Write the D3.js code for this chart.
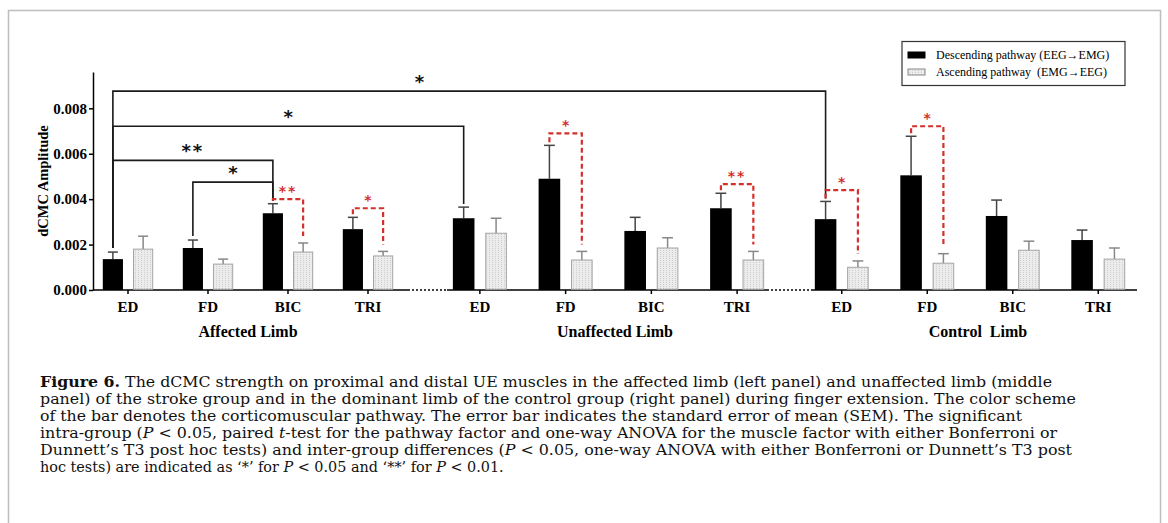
<!DOCTYPE html>
<html>
<head>
<meta charset="utf-8">
<script src="https://cdn.jsdelivr.net/npm/d3@7"></script>
<style>
  body { margin: 0; background: #fff; }
  text { font-family: "Liberation Serif", "Times New Roman", serif; }
</style>
</head>
<body>
<div id="chart"></div>
<script>
// --- data ---
const muscles = ["ED", "FD", "BIC", "TRI"];
const limbs = ["Affected Limb", "Unaffected Limb", "Control  Limb"];
const pathways = ["Descending pathway (EEG\u2192EMG)", "Ascending pathway  (EMG\u2192EEG)"];

// one row per limb, one value per muscle
const descending = [
  [0.00136, 0.00185, 0.00338, 0.00268],
  [0.00316, 0.00490, 0.00260, 0.00360],
  [0.00312, 0.00505, 0.00326, 0.00220]
];
const descendingSem = [
  [0.00031, 0.00035, 0.00042, 0.00052],
  [0.00049, 0.00147, 0.00060, 0.00066],
  [0.00078, 0.00172, 0.00070, 0.00044]
];
const ascending = [
  [0.00180, 0.00114, 0.00167, 0.00150],
  [0.00250, 0.00132, 0.00185, 0.00132],
  [0.00100, 0.00118, 0.00175, 0.00136]
];
const ascendingSem = [
  [0.00057, 0.00022, 0.00040, 0.00020],
  [0.00066, 0.00038, 0.00045, 0.00038],
  [0.00028, 0.00042, 0.00040, 0.00049]
];
const yTicks = [0, 0.002, 0.004, 0.006, 0.008];

// inter-group brackets (descending bars): [limb, muscle]
const interBrackets = [
  { from: [0, 0], to: [2, 0], level: 0.00876, label: "*" },
  { from: [0, 0], to: [1, 0], level: 0.00721, label: "*" },
  { from: [0, 0], to: [0, 2], level: 0.00571, label: "**" },
  { from: [0, 1], to: [0, 2], level: 0.00475, label: "*" }
];
// pathway brackets (descending vs ascending)
const pathwayBrackets = [
  { limb: 0, muscle: 2, level: 0.00400, label: "**" },
  { limb: 0, muscle: 3, level: 0.00360, label: "*" },
  { limb: 1, muscle: 1, level: 0.00690, label: "*" },
  { limb: 1, muscle: 3, level: 0.00466, label: "**" },
  { limb: 2, muscle: 0, level: 0.00440, label: "*" },
  { limb: 2, muscle: 1, level: 0.00721, label: "*" }
];

const captionLines = [
  [["Figure 6.", "b"], [" The dCMC strength on proximal and distal UE muscles in the affected limb (left panel) and unaffected limb (middle", ""]],
  [["panel) of the stroke group and in the dominant limb of the control group (right panel) during finger extension. The color scheme", ""]],
  [["of the bar denotes the corticomuscular pathway. The error bar indicates the standard error of mean (SEM). The significant", ""]],
  [["intra-group (", ""], ["P", "i"], [" < 0.05, paired ", ""], ["t", "i"], ["-test for the pathway factor and one-way ANOVA for the muscle factor with either Bonferroni or", ""]],
  [["Dunnett\u2019s T3 post hoc tests) and inter-group differences (", ""], ["P", "i"], [" < 0.05, one-way ANOVA with either Bonferroni or Dunnett\u2019s T3 post", ""]],
  [["hoc tests) are indicated as \u2018*\u2019 for ", ""], ["P", "i"], [" < 0.05 and \u2018**\u2019 for ", ""], ["P", "i"], [" < 0.01.", ""]]
];

// --- layout ---
const width = 1168, height = 523;
const panelRanges = [[88, 408], [437, 780], [799, 1141]];
const axisSpans = [[93, 408], [447, 767], [813, 1137]];
const titleX = [248, 615, 978];
const captionWidths = [1012, 1036, 982, 1017, 1032, null];
const red = "#d3302c";

const svg = d3.select("#chart").append("svg")
  .attr("width", width).attr("height", height);

// frame
svg.append("rect")
  .attr("x", 8.5).attr("y", 10.5)
  .attr("width", 1152).attr("height", 540)
  .attr("fill", "none").attr("stroke", "#bdbdbd").attr("stroke-width", 1.5);

// texture for ascending bars
const defs = svg.append("defs");
const pat = defs.append("pattern")
  .attr("id", "dots").attr("patternUnits", "userSpaceOnUse")
  .attr("width", 3).attr("height", 2);
pat.append("rect").attr("width", 3).attr("height", 2).attr("fill", "#ececec");
pat.append("rect").attr("width", 1).attr("height", 1).attr("fill", "#cdcdcd");

const y = d3.scaleLinear().domain([0, 0.0096]).range([290, 72]);

// y axis
const yAxis = svg.append("g")
  .attr("transform", "translate(93,0)")
  .call(d3.axisLeft(y).tickValues(yTicks).tickFormat(d3.format(".3f")).tickSize(4).tickSizeOuter(0));
yAxis.select(".domain").attr("stroke", "#000").attr("stroke-width", 1.5);
yAxis.selectAll(".tick line").attr("stroke", "#000").attr("stroke-width", 1.5);
yAxis.selectAll(".tick text")
  .attr("x", -6)
  .style("font-family", "Liberation Serif, serif")
  .style("font-weight", "bold").style("font-size", "15px").attr("fill", "#000");

svg.append("text")
  .attr("transform", "translate(48,181) rotate(-90)")
  .attr("text-anchor", "middle")
  .style("font-weight", "bold").style("font-size", "14.5px")
  .text("dCMC Amplitude");

// scales per panel
const panels = limbs.map((limb, i) => {
  const x0 = d3.scaleBand().domain(muscles).range(panelRanges[i]);
  const inner = x0.bandwidth() * 0.63;
  const x1 = d3.scaleBand().domain(["desc", "asc"]).range([0, inner]).paddingInner(1 / 3);
  const off = (x0.bandwidth() - inner) / 2;
  return { x0, x1, off };
});
const barX = (li, mi, key) => panels[li].x0(muscles[mi]) + panels[li].off + panels[li].x1(key);
const barCx = (li, mi, key) => barX(li, mi, key) + panels[li].x1.bandwidth() / 2;
const capY = (li, mi, key) => key === "desc"
  ? y(descending[li][mi] + descendingSem[li][mi])
  : y(ascending[li][mi] + ascendingSem[li][mi]);

// x axis segments and dotted joins
axisSpans.forEach((s, i) => {
  svg.append("line")
    .attr("x1", s[0]).attr("x2", s[1]).attr("y1", y(0)).attr("y2", y(0))
    .attr("stroke", "#000").attr("stroke-width", 1.5);
  if (i < axisSpans.length - 1) {
    svg.append("line")
      .attr("x1", s[1]).attr("x2", axisSpans[i + 1][0]).attr("y1", y(0)).attr("y2", y(0))
      .attr("stroke", "#000").attr("stroke-width", 1.5).attr("stroke-dasharray", "2,2");
  }
});

panels.forEach((p, li) => {
  const g = svg.append("g");
  const rows = muscles.map((m, mi) => ({
    m, mi,
    desc: descending[li][mi], descSem: descendingSem[li][mi],
    asc: ascending[li][mi], ascSem: ascendingSem[li][mi]
  }));

  // error bars (drawn first so bars sit over the stems)
  ["desc", "asc"].forEach(key => {
    const col = key === "desc" ? "#444" : "#888";
    const bw = p.x1.bandwidth();
    rows.forEach(r => {
      const cx = barCx(li, r.mi, key);
      const v = r[key], e = r[key + "Sem"];
      g.append("line").attr("x1", cx).attr("x2", cx)
        .attr("y1", y(v)).attr("y2", y(v + e))
        .attr("stroke", col).attr("stroke-width", 1.5);
      g.append("line").attr("x1", cx - bw / 4).attr("x2", cx + bw / 4)
        .attr("y1", y(v + e)).attr("y2", y(v + e))
        .attr("stroke", col).attr("stroke-width", 1.5);
    });
  });

  g.selectAll(".desc").data(rows).enter().append("rect")
    .attr("x", d => barX(li, d.mi, "desc"))
    .attr("y", d => y(d.desc))
    .attr("width", p.x1.bandwidth())
    .attr("height", d => y(0) - y(d.desc))
    .attr("fill", "#000");

  g.selectAll(".asc").data(rows).enter().append("rect")
    .attr("x", d => barX(li, d.mi, "asc") + 0.5)
    .attr("y", d => y(d.asc))
    .attr("width", p.x1.bandwidth() - 1)
    .attr("height", d => y(0) - y(d.asc) - 0.75)
    .attr("fill", "url(#dots)")
    .attr("stroke", "#a3a3a3").attr("stroke-width", 1);

  // ticks + labels
  muscles.forEach(m => {
    const cx = p.x0(m) + p.x0.bandwidth() / 2;
    svg.append("line").attr("x1", cx).attr("x2", cx)
      .attr("y1", y(0)).attr("y2", y(0) + 4)
      .attr("stroke", "#000").attr("stroke-width", 1.5);
    svg.append("text").attr("x", cx).attr("y", 312)
      .attr("text-anchor", "middle")
      .style("font-weight", "bold").style("font-size", "15px")
      .text(m);
  });

  svg.append("text").attr("x", titleX[li]).attr("y", 337)
    .attr("text-anchor", "middle")
    .style("font-weight", "bold").style("font-size", "16px")
    .attr("xml:space", "preserve")
    .text(limbs[li]);
});

// stars: text centered on a point
function star(x, yc, label, color, size) {
  svg.append("text")
    .attr("x", x).attr("y", yc + size * 0.42)
    .attr("text-anchor", "middle")
    .attr("fill", color)
    .style("font-family", "DejaVu Sans, sans-serif")
    .style("font-weight", "bold")
    .style("font-size", size + "px")
    .style("letter-spacing", label.length > 1 ? "2px" : "0px")
    .text(label);
}

// inter-group brackets
const labelFrac = [0.43, 0.5, 0.5, 0.5];
interBrackets.forEach((b, i) => {
  const xa = barCx(b.from[0], b.from[1], "desc");
  const xb = barCx(b.to[0], b.to[1], "desc");
  const ly = y(b.level);
  const ya = capY(b.from[0], b.from[1], "desc") - 4;
  const yb = capY(b.to[0], b.to[1], "desc") - 3;
  svg.append("path")
    .attr("d", `M${xa},${ya}V${ly}H${xb}V${yb}`)
    .attr("fill", "none").attr("stroke", "#1a1a1a").attr("stroke-width", 1.6);
  star(xa + (xb - xa) * labelFrac[i], ly - 11, b.label, "#111", 18);
});

// pathway brackets (red dashed)
pathwayBrackets.forEach(b => {
  const xa = barCx(b.limb, b.muscle, "desc");
  const xb = barCx(b.limb, b.muscle, "asc");
  const ly = y(b.level);
  const ya = capY(b.limb, b.muscle, "desc") - 3;
  const yb = capY(b.limb, b.muscle, "asc") - 7;
  svg.append("path")
    .attr("d", `M${xa},${ya}V${ly}H${xb}V${yb}`)
    .attr("fill", "none").attr("stroke", red).attr("stroke-width", 2.2)
    .attr("stroke-dasharray", "5,3");
  star((xa + xb) / 2, ly - 9, b.label, red, 14);
});

// legend
const lg = svg.append("g");
lg.append("rect").attr("x", 902).attr("y", 41.5).attr("width", 223).attr("height", 44)
  .attr("fill", "#fff").attr("stroke", "#333").attr("stroke-width", 1.2);
pathways.forEach((name, i) => {
  const yy = 55 + i * 17;
  lg.append("rect").attr("x", 908).attr("y", yy - 3).attr("width", 17).attr("height", 6)
    .attr("fill", i === 0 ? "#000" : "url(#dots)")
    .attr("stroke", i === 0 ? "#000" : "#888").attr("stroke-width", 1);
  lg.append("text").attr("x", 936).attr("y", yy + 4)
    .style("font-size", "12px").attr("xml:space", "preserve")
    .text(name);
});

// caption
captionLines.forEach((segs, i) => {
  const t = svg.append("text")
    .attr("x", 40).attr("y", 387 + i * 17)
    .attr("xml:space", "preserve")
    .style("font-family", "DejaVu Serif, serif")
    .style("font-size", "14.4px").attr("fill", "#111");
  segs.forEach(([s, st]) => {
    t.append("tspan")
      .style("font-weight", st === "b" ? "bold" : "normal")
      .style("font-style", st === "i" ? "italic" : "normal")
      .text(s);
  });
  if (captionWidths[i]) t.attr("textLength", captionWidths[i]).attr("lengthAdjust", "spacingAndGlyphs");
});
</script>
</body>
</html>
